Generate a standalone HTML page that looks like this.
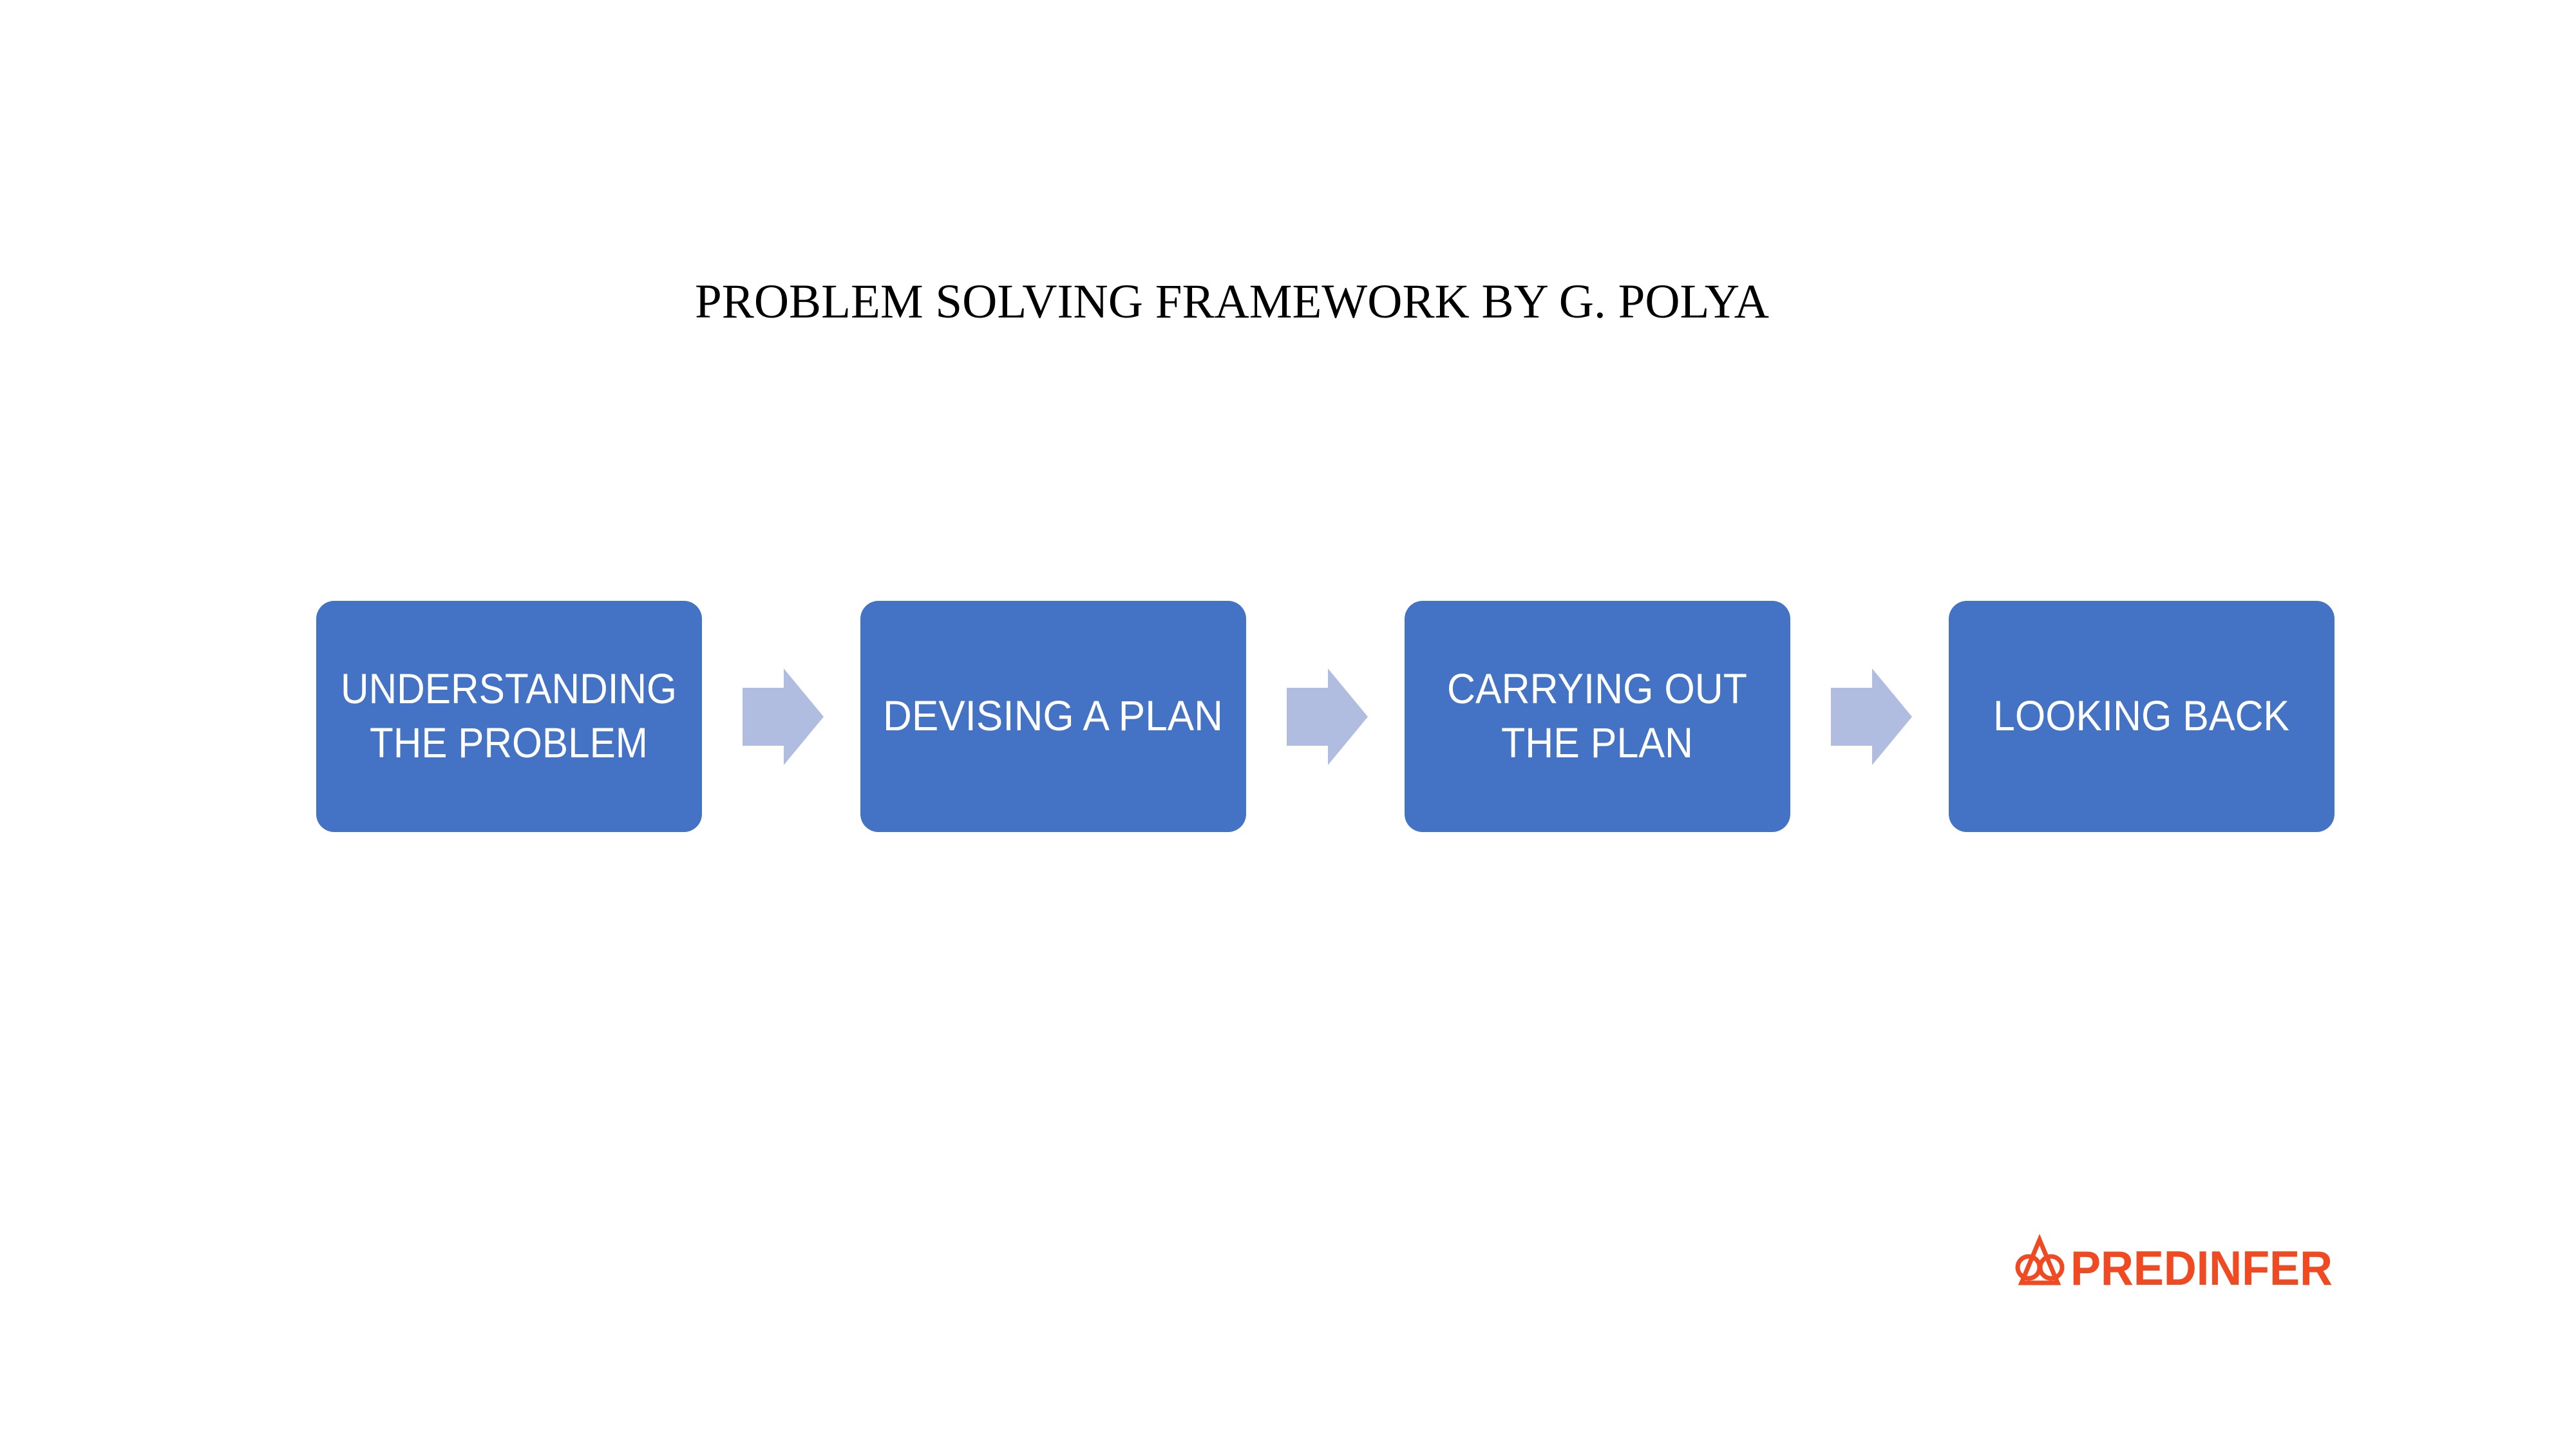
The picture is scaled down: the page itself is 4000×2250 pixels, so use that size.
<!DOCTYPE html>
<html><head><meta charset="utf-8"><style>html,body{margin:0;padding:0;background:#fff}svg{display:block}</style></head>
<body>
<svg width="4000" height="2250" viewBox="0 0 4000 2250" xmlns="http://www.w3.org/2000/svg">
<rect width="4000" height="2250" fill="#fff"/>
<text x="1079" y="493" font-family="Liberation Serif, serif" font-size="75" textLength="1668" lengthAdjust="spacingAndGlyphs" fill="#000">PROBLEM SOLVING FRAMEWORK BY G. POLYA</text>
<g fill="#4472c4">
<rect x="491" y="933" width="599" height="359" rx="28"/>
<rect x="1336" y="933" width="599" height="359" rx="28"/>
<rect x="2181" y="933" width="599" height="359" rx="28"/>
<rect x="3026" y="933" width="599" height="359" rx="28"/>
</g>
<g fill="#b0bde0">
<polygon points="1153,1068 1217,1068 1217,1038 1279,1113 1217,1188 1217,1158 1153,1158"/>
<polygon points="1998,1068 2062,1068 2062,1038 2124,1113 2062,1188 2062,1158 1998,1158"/>
<polygon points="2843,1068 2907,1068 2907,1038 2969,1113 2907,1188 2907,1158 2843,1158"/>
</g>
<g fill="#fff" font-family="Liberation Sans, sans-serif" font-size="66" text-anchor="middle">
<text x="790" y="1092" textLength="522" lengthAdjust="spacingAndGlyphs">UNDERSTANDING</text>
<text x="790" y="1176" textLength="432" lengthAdjust="spacingAndGlyphs">THE PROBLEM</text>
<text x="1635" y="1134" textLength="528" lengthAdjust="spacingAndGlyphs">DEVISING A PLAN</text>
<text x="2480" y="1092" textLength="466" lengthAdjust="spacingAndGlyphs">CARRYING OUT</text>
<text x="2480" y="1176" textLength="298" lengthAdjust="spacingAndGlyphs">THE PLAN</text>
<text x="3325" y="1134" textLength="460" lengthAdjust="spacingAndGlyphs">LOOKING BACK</text>
</g>
<g stroke="#f04a23" stroke-width="7" fill="none">
<circle cx="3150" cy="1968" r="17"/>
<circle cx="3185" cy="1968" r="17"/>
<polygon points="3167,1925 3139,1992 3195,1992"/>
</g>
<text x="3215" y="1995" font-family="Liberation Sans, sans-serif" font-weight="bold" font-size="75" textLength="407" lengthAdjust="spacingAndGlyphs" fill="#f04a23">PREDINFER</text>
</svg>
</body></html>
